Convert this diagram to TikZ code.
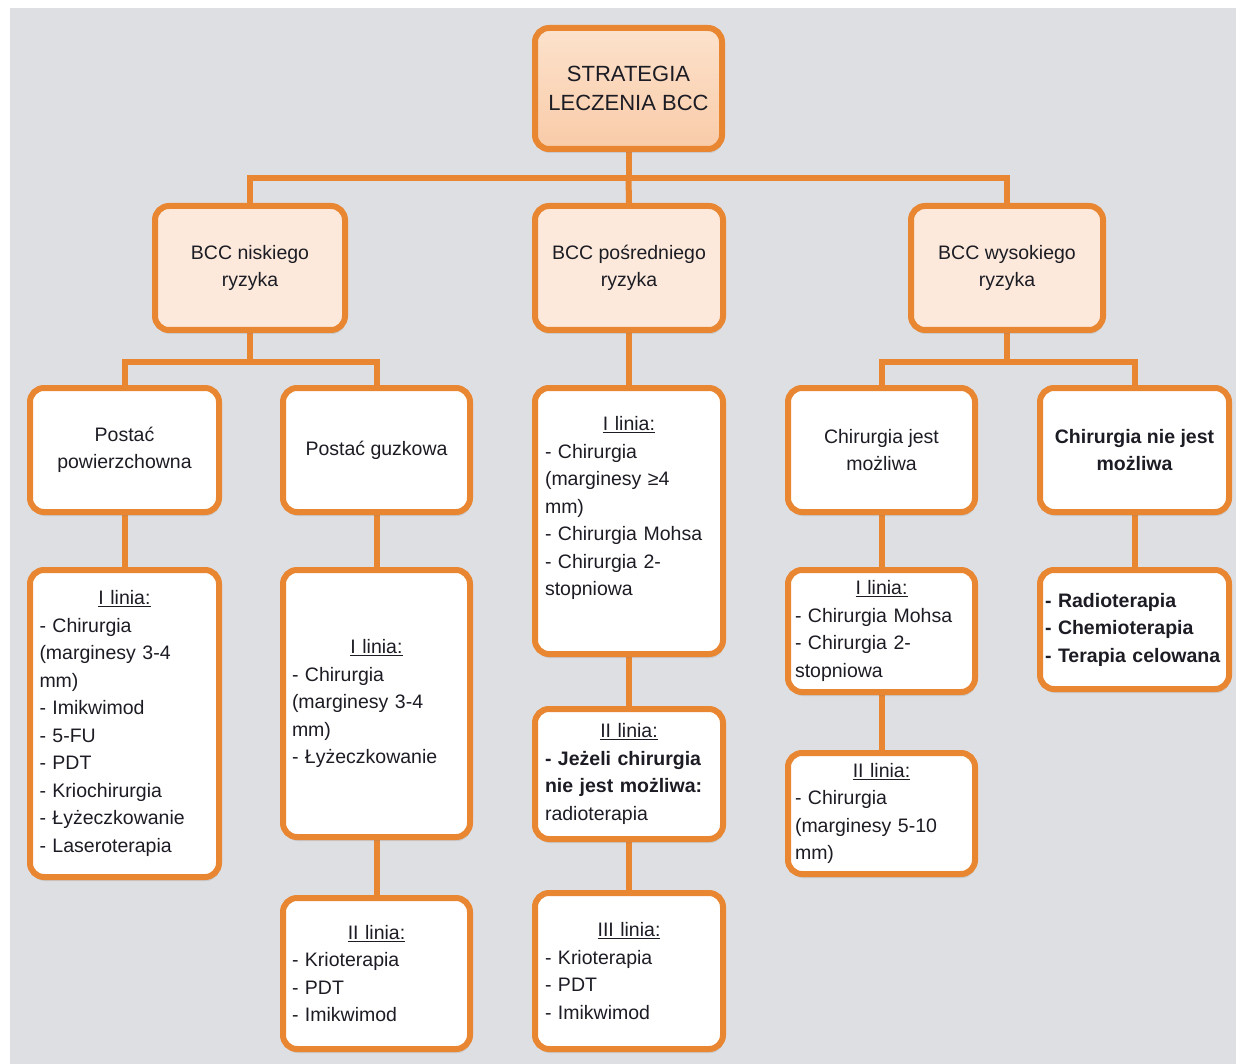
\documentclass[tikz,border=0pt]{standalone}
\usepackage{fontspec}
\setmainfont{Liberation Sans}
\usetikzlibrary{shadows,backgrounds}
\definecolor{ora}{RGB}{232,134,50}
\definecolor{peach}{RGB}{252,233,219}
\definecolor{peachtop}{RGB}{252,226,204}
\definecolor{peachbot}{RGB}{249,203,168}
\definecolor{bggray}{RGB}{222,223,226}
\definecolor{txt}{RGB}{28,28,36}
\newcommand{\linTitle}[1]{\hspace*{\fill}\underline{#1}\hspace*{\fill}\mbox{}}
\begin{document}
\begin{tikzpicture}[x=1pt,y=-1pt,
  box/.style={draw=ora, line width=6pt, rounded corners=14pt, fill=white, text=txt,
    font=\fontsize{19.5}{27.5}\selectfont, align=center, inner sep=0pt,
    drop shadow={shadow xshift=1pt, shadow yshift=-4pt, opacity=0.22}},
  pbox/.style={box, fill=peach},
  topbox/.style={box, top color=peachtop, bottom color=peachbot, font=\fontsize{22}{29}\selectfont},
  lbox/.style={box, align=left, text width=#1},
  con/.style={draw=ora, line width=6pt}]
\useasboundingbox (0,0) rectangle (1236,1064);
% nodes
\node[topbox, minimum width=187pt, minimum height=121pt] (top) at (628.5,88.5) {STRATEGIA\\LECZENIA BCC};
\node[pbox, minimum width=190pt, minimum height=124pt] (low) at (250,268) {BCC niskiego\\ryzyka};
\node[pbox, minimum width=188pt, minimum height=124pt] (mid) at (629,268) {BCC pośredniego\\ryzyka};
\node[pbox, minimum width=192pt, minimum height=124pt] (high) at (1007,268) {BCC wysokiego\\ryzyka};
\node[box, minimum width=189pt, minimum height=124pt] (pow) at (124.5,450) {Postać\\powierzchowna};
\node[box, minimum width=187pt, minimum height=124pt] (guz) at (376.5,450) {Postać guzkowa};
\node[box, minimum width=187pt, minimum height=124pt] (mozl) at (881.5,450) {Chirurgia jest\\możliwa};
\node[box, minimum width=189pt, minimum height=124pt, font=\fontsize{19.5}{27.5}\selectfont\bfseries] (niemozl) at (1134.5,450) {Chirurgia nie jest\\możliwa};
\node[lbox=168pt, minimum width=188pt, minimum height=266pt] (midI) at (629,521)
  {\linTitle{I linia:}\\- Chirurgia\\(marginesy ≥4\\mm)\\- Chirurgia Mohsa\\- Chirurgia 2-\\stopniowa\rule[-30pt]{0pt}{0pt}};
\node[lbox=170pt, minimum width=189pt, minimum height=307pt] (powI) at (124.5,723.5)
  {\linTitle{I linia:}\\- Chirurgia\\(marginesy 3-4\\mm)\\- Imikwimod\\- 5-FU\\- PDT\\- Kriochirurgia\\- Łyżeczkowanie\\- Laseroterapia};
\node[lbox=169pt, minimum width=187pt, minimum height=267pt] (guzI) at (376.5,703.5)
  {\linTitle{I linia:}\\- Chirurgia\\(marginesy 3-4\\mm)\\- Łyżeczkowanie};
\node[lbox=168pt, minimum width=188pt, minimum height=130pt] (midII) at (629,774)
  {\linTitle{II linia:}\\\textbf{- Jeżeli chirurgia}\\\textbf{nie jest możliwa:}\\radioterapia};
\node[lbox=173pt, minimum width=187pt, minimum height=122pt] (mozlI) at (881.5,631)
  {\linTitle{I linia:}\\- Chirurgia Mohsa\\- Chirurgia 2-\\stopniowa};
\node[lbox=179pt, minimum width=189pt, minimum height=119pt, font=\fontsize{19.5}{27.5}\selectfont\bfseries] (nieList) at (1134.5,629.5)
  {- Radioterapia\\- Chemioterapia\\- Terapia celowana};
\node[lbox=169pt, minimum width=187pt, minimum height=151pt] (guzII) at (376.5,973.5)
  {\linTitle{II linia:}\\- Krioterapia\\- PDT\\- Imikwimod};
\node[lbox=168pt, minimum width=188pt, minimum height=156pt] (midIII) at (629,971)
  {\linTitle{III linia:}\\- Krioterapia\\- PDT\\- Imikwimod};
\node[lbox=173pt, minimum width=187pt, minimum height=121pt] (mozlII) at (881.5,813.5)
  {\linTitle{II linia:}\\- Chirurgia\\(marginesy 5-10\\mm)};
% background and connectors
\begin{pgfonlayer}{background}
\fill[white] (0,0) rectangle (1236,1064);
\fill[bggray] (10,8) rectangle (1236,1064);
\coordinate (b1) at (628.5,178);
\coordinate (b2) at (250,362);
\coordinate (b3) at (1007,362);
\draw[con] (top.south) -- (b1);
\draw[con] (low.north) |- (b1) -| (high.north);
\draw[con] (b1) -- (mid.north);
\draw[con] (low.south) -- (b2);
\draw[con] (pow.north) |- (b2) -| (guz.north);
\draw[con] (high.south) -- (b3);
\draw[con] (mozl.north) |- (b3) -| (niemozl.north);
\draw[con] (mid.south) -- (midI.north);
\draw[con] (midI.south) -- (midII.north);
\draw[con] (midII.south) -- (midIII.north);
\draw[con] (pow.south) -- (powI.north);
\draw[con] (guz.south) -- (guzI.north);
\draw[con] (guzI.south) -- (guzII.north);
\draw[con] (mozl.south) -- (mozlI.north);
\draw[con] (mozlI.south) -- (mozlII.north);
\draw[con] (niemozl.south) -- (nieList.north);
\end{pgfonlayer}
\end{tikzpicture}
\end{document}
